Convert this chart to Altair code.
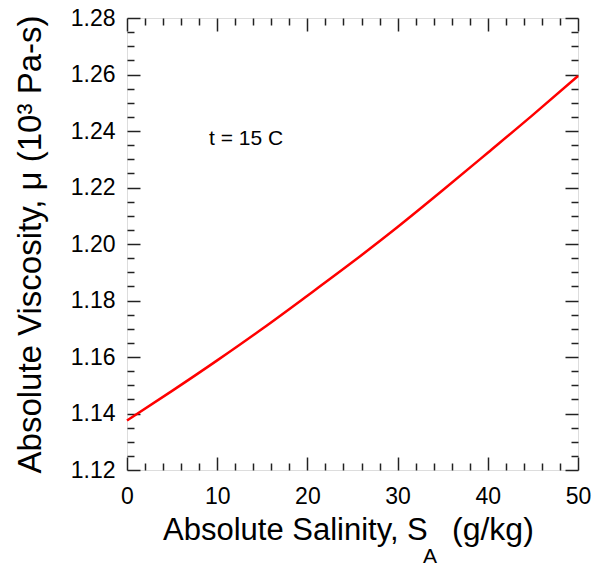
import altair as alt
import pandas as pd

# ---- data ----
salinity = [0, 5, 10, 15, 20, 25, 30, 35, 40, 45, 50]
viscosity = [1.1375, 1.1480, 1.1588, 1.1700, 1.1817, 1.1936, 1.2060, 1.2190, 1.2323, 1.2457, 1.2595]

x_major = [0, 10, 20, 30, 40, 50]
x_minor = [v for v in range(0, 51, 2) if v % 10]
y_major = [1.12, 1.14, 1.16, 1.18, 1.20, 1.22, 1.24, 1.26, 1.28]
y_minor = [round(1.12 + 0.005 * i, 3) for i in range(33) if i % 4]

x_title_main = "Absolute Salinity, S"
x_title_sub = "A"
x_title_tail = "(g/kg)"
y_title = "Absolute Viscosity, \u03bc (10\u00b3 Pa-s)"
annotation = "t = 15 C"

FONT = "Liberation Sans"
W, H = 451, 452

df = pd.DataFrame({"S": salinity, "mu": viscosity})
xs = alt.Scale(domain=[0, 50], nice=False, zero=False)
ys = alt.Scale(domain=[1.12, 1.28], nice=False, zero=False)
base = alt.Chart(df)

line = base.mark_line(color="#ff0000", strokeWidth=2.5, interpolate="monotone").encode(
    x=alt.X("S:Q", scale=xs, axis=alt.Axis(
        orient="bottom", values=x_major, ticks=False, domain=False, grid=False,
        labelFontSize=23, labelFont=FONT, labelColor="black", labelPadding=15,
        labelFlush=False, labelOverlap=False, title=None)),
    y=alt.Y("mu:Q", scale=ys, axis=alt.Axis(
        orient="left", values=y_major, format=".2f", ticks=False, domain=False, grid=False,
        labelFontSize=23, labelFont=FONT, labelColor="black", labelPadding=12,
        labelOverlap=False, title=y_title, titleFontSize=33, titleFont=FONT,
        titleFontWeight="normal", titleColor="black", titlePadding=23)),
)


def tick_layer(x_orient, y_orient, xvals, yvals, size):
    return base.mark_line(opacity=0).encode(
        x=alt.X("S:Q", scale=xs, axis=alt.Axis(
            orient=x_orient, offset=-H, values=xvals, labels=False, domain=False,
            grid=False, tickSize=size, tickWidth=1.5, tickColor="#222222", title=None)),
        y=alt.Y("mu:Q", scale=ys, axis=alt.Axis(
            orient=y_orient, offset=-W, values=yvals, labels=False, domain=False,
            grid=False, tickSize=size, tickWidth=1.5, tickColor="#222222", title=None)),
    )


ticks_a = tick_layer("top", "right", x_major, y_major, 13)
ticks_b = tick_layer("bottom", "left", x_major, y_major, 13)
ticks_c = tick_layer("top", "right", x_minor, y_minor, 7)
ticks_d = tick_layer("bottom", "left", x_minor, y_minor, 7)

one = alt.Chart(pd.DataFrame({"k": [0]}))

t_main = one.mark_text(font=FONT, fontSize=31, align="left", baseline="alphabetic", color="black").encode(
    x=alt.value(36), y=alt.value(522), text=alt.value(x_title_main))
t_sub = one.mark_text(font=FONT, fontSize=21, align="left", baseline="alphabetic", color="black").encode(
    x=alt.value(296), y=alt.value(545), text=alt.value(x_title_sub))
t_tail = one.mark_text(font=FONT, fontSize=32, align="left", baseline="alphabetic", color="black").encode(
    x=alt.value(325), y=alt.value(522), text=alt.value(x_title_tail))
t_note = one.mark_text(font=FONT, fontSize=21, align="left", baseline="alphabetic", color="black").encode(
    x=alt.value(82), y=alt.value(127), text=alt.value(annotation))

chart = alt.layer(line, ticks_a, ticks_b, ticks_c, ticks_d, t_main, t_sub, t_tail, t_note).resolve_axis(
    x="independent", y="independent"
).properties(
    width=W, height=H,
    autosize=alt.AutoSizeParams(type="none"),
    padding={"left": 119, "top": 10, "right": 19, "bottom": 96},
).configure_view(stroke="#222222", strokeWidth=2).configure(background="white")

chart.save("out.html", embed_options={"renderer": "svg", "actions": False})
